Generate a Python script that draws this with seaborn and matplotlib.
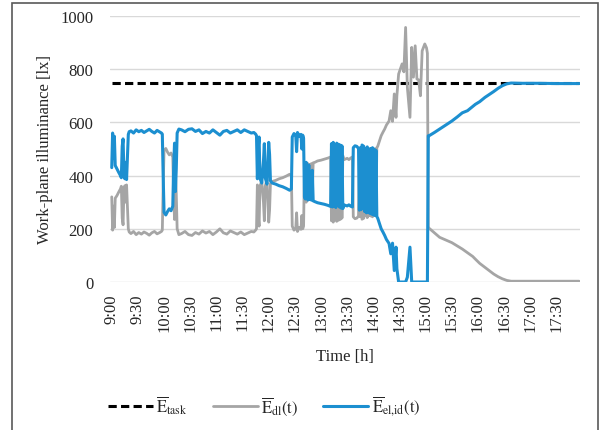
import pandas as pd
import seaborn as sns
import matplotlib.pyplot as plt
from matplotlib.patches import Rectangle
from matplotlib.lines import Line2D

sns.set_theme(style="white")
plt.rcParams['font.family'] = ['Liberation Serif', 'DejaVu Serif']
plt.rcParams['mathtext.fontset'] = 'stix'

# Time in minutes after 9:00, with daylight (E_dl) and ideal electric (E_el,id) illuminance in lx
minutes = [
    0, 1, 2, 3, 4, 6, 8, 10, 11, 12, 13, 14, 15, 16, 17, 18, 19, 20,
    22, 25, 28, 31, 34, 37, 40, 43, 46, 49, 52, 55, 57,
    58, 59, 60, 62, 64, 66, 68, 70, 71, 72, 73, 74, 75, 77,
    80, 84, 88, 92, 96, 100, 104, 108, 112, 116, 120, 124, 128, 132, 136, 140,
    144, 148, 152, 156, 160, 163, 165,
    166, 167, 168, 169, 170, 172, 174, 175, 176, 178, 180, 181, 182, 184, 188,
    192, 196, 200, 204, 206, 207, 209, 211, 212, 213, 215, 217, 218, 219, 220, 221,
    222, 223, 224, 225, 226, 227, 229, 230, 231, 233, 236, 240, 244, 248, 251,
    252, 253, 254, 255, 256, 257, 258, 259, 260, 261, 262, 263, 264, 265, 266,
    268, 270, 272, 274, 276,
    277, 279, 281, 283, 284, 285, 286, 287, 289, 290, 291, 292, 293, 294, 295,
    296, 297, 298, 299, 300, 301, 302, 303, 304, 305,
    307, 309, 311, 313, 315, 317, 318, 320, 322, 324, 326, 327, 329, 331, 333,
    335, 337, 339, 342, 344, 346, 348, 350, 352, 354, 356, 359, 361, 362,
    363, 364, 370, 376, 383, 390, 396, 402, 408, 414, 417, 422, 428, 433, 438,
    443, 448, 453, 458, 470, 490, 510, 536,
]
e_dl = [
    320, 195, 285, 205, 315, 325, 338, 350, 360, 240, 215, 345, 362, 300, 365, 280, 200, 188,
    182, 190, 178, 186, 180, 188, 183, 176, 185, 190, 181, 186, 190,
    195, 360, 495, 502, 488, 478, 485, 470, 330, 235, 420, 330, 200, 178,
    182, 190, 178, 175, 186, 180, 192, 184, 190, 178, 188, 200, 185, 180, 192, 186,
    180, 188, 178, 184, 190, 188, 195,
    200, 365, 250, 210, 360, 380, 300, 230, 360, 385, 225, 270, 370, 378, 382,
    388, 392, 398, 405, 400, 210, 195, 200, 260, 190, 205, 198, 250, 200, 210, 430,
    440, 300, 420, 445, 310, 440, 445, 330, 448, 450, 455, 458, 462, 466, 470,
    230, 470, 225, 465, 240, 470, 228, 462, 232, 468, 235, 472, 240, 475, 460,
    462, 465, 460, 466, 470,
    245, 238, 240, 248, 480, 245, 478, 236, 240, 485, 250, 490, 242, 488, 250,
    492, 248, 495, 245, 498, 250, 500, 255, 505, 510,
    530, 550, 563, 575, 590, 600, 605, 644, 604, 707, 619, 700, 782, 801, 820,
    790, 957, 732, 619, 882, 770, 888, 763, 760, 700, 869, 895, 880, 860,
    205, 202, 185, 168, 158, 148, 136, 124, 110, 96, 86, 70, 55, 43, 30,
    20, 12, 6, 3, 3, 3, 3, 3,
]
e_el_id = [
    430, 560, 465, 548, 438, 425, 412, 400, 392, 510, 538, 405, 388, 450, 385, 470, 555, 565,
    568, 560, 572, 565, 570, 562, 568, 574, 566, 560, 570, 564, 560,
    556, 395, 262, 252, 265, 275, 268, 285, 430, 522, 340, 425, 560, 575,
    572, 565, 574, 576, 566, 572, 558, 566, 560, 572, 562, 552, 566, 570, 560, 566,
    572, 562, 572, 566, 560, 562, 556,
    550, 388, 505, 545, 390, 372, 455, 520, 392, 368, 525, 480, 380, 372, 368,
    362, 358, 352, 345, 350, 545, 558, 552, 490, 562, 548, 555, 500, 552, 540, 320,
    312, 450, 330, 308, 440, 312, 308, 420, 305, 302, 298, 295, 292, 288, 284,
    520, 282, 525, 285, 510, 280, 522, 288, 518, 282, 515, 278, 512, 276, 290,
    288, 286, 290, 285, 282,
    505, 512, 510, 502, 270, 505, 272, 515, 510, 265, 500, 260, 508, 262, 500,
    258, 502, 255, 505, 252, 500, 250, 495, 246, 240,
    220, 200, 188, 175, 160, 150, 145, 106, 146, 43, 131, 50, 0, 0, 0,
    0, 0, 18, 131, 0, 0, 0, 0, 0, 0, 0, 0, 0, 0,
    550, 550, 562, 575, 590, 605, 620, 636, 644, 660, 668, 678, 694, 705, 716,
    728, 738, 745, 748, 747, 747, 746, 746,
]
E_TASK = 750  # target task illuminance [lx]

tick_minutes = list(range(0, 511, 30))
tick_labels = ['9:00', '9:30', '10:00', '10:30', '11:00', '11:30', '12:00', '12:30',
               '13:00', '13:30', '14:00', '14:30', '15:00', '15:30', '16:00', '16:30',
               '17:00', '17:30']
y_ticks = [0, 200, 400, 600, 800, 1000]

DL_COLOR = '#a5a5a5'
EL_COLOR = '#1c8fd0'

df = pd.DataFrame({'minute': minutes, 'E_dl': e_dl, 'E_el_id': e_el_id})
task_df = pd.DataFrame({'minute': [minutes[0], minutes[-1]], 'E_task': [E_TASK, E_TASK]})

fig = plt.figure(figsize=(6.04, 4.31), dpi=100)
ax = fig.add_axes([110 / 604, 1 - 283 / 431, 470 / 604, 266 / 431])

dash = (0, (2.7, 1.4))
sns.lineplot(data=task_df, x='minute', y='E_task', ax=ax, color='black', lw=2.2, linestyle=dash)
sns.lineplot(data=df, x='minute', y='E_dl', ax=ax, color=DL_COLOR, lw=2.0)
sns.lineplot(data=df, x='minute', y='E_el_id', ax=ax, color=EL_COLOR, lw=2.2)

ax.set_xlim(-2, 537)
ax.set_ylim(0, 1000)
ax.set_yticks(y_ticks)
ax.set_yticklabels([str(v) for v in y_ticks])
ax.set_xticks(tick_minutes)
ax.set_xticklabels(tick_labels, rotation=90)
ax.tick_params(axis='x', length=0, pad=8, labelsize=12)
ax.tick_params(axis='y', length=0, pad=12, labelsize=12)
ax.yaxis.grid(True, color='#d9d9d9', lw=1.0)
ax.xaxis.grid(False)
ax.set_axisbelow(True)
for s in ax.spines.values():
    s.set_visible(False)

ax.set_xlabel('Time [h]', fontsize=12)
ax.xaxis.label.set_va('center')
ax.xaxis.set_label_coords(0.5, -(357 - 283) / 266)
ax.set_ylabel('Work-plane illuminance [lx]', fontsize=12)
ax.yaxis.label.set_va('center')
ax.yaxis.set_label_coords(-(110 - 45) / 470, 0.5)

handles = [
    Line2D([], [], color='black', lw=2.2, linestyle=dash),
    Line2D([], [], color=DL_COLOR, lw=2.0),
    Line2D([], [], color=EL_COLOR, lw=2.2),
]
labels = [r'$\overline{\mathrm{E}}_{\mathrm{task}}$',
          r'$\overline{\mathrm{E}}_{\mathrm{dl}}(\mathrm{t})$',
          r'$\overline{\mathrm{E}}_{\mathrm{el{,}id}}(\mathrm{t})$']
fig.legend(handles, labels, loc='center', bbox_to_anchor=(264 / 604, 1 - 407 / 431),
           ncol=3, frameon=False, fontsize=12, handlelength=2.7, handletextpad=0.2,
           columnspacing=1.5)

fig.add_artist(Rectangle((12 / 604, -0.02), (598 - 12) / 604, 1 - 4 / 431 + 0.02,
                         transform=fig.transFigure, fill=False, edgecolor='#595959', lw=1.2))

fig.savefig('out.png', dpi=100)
